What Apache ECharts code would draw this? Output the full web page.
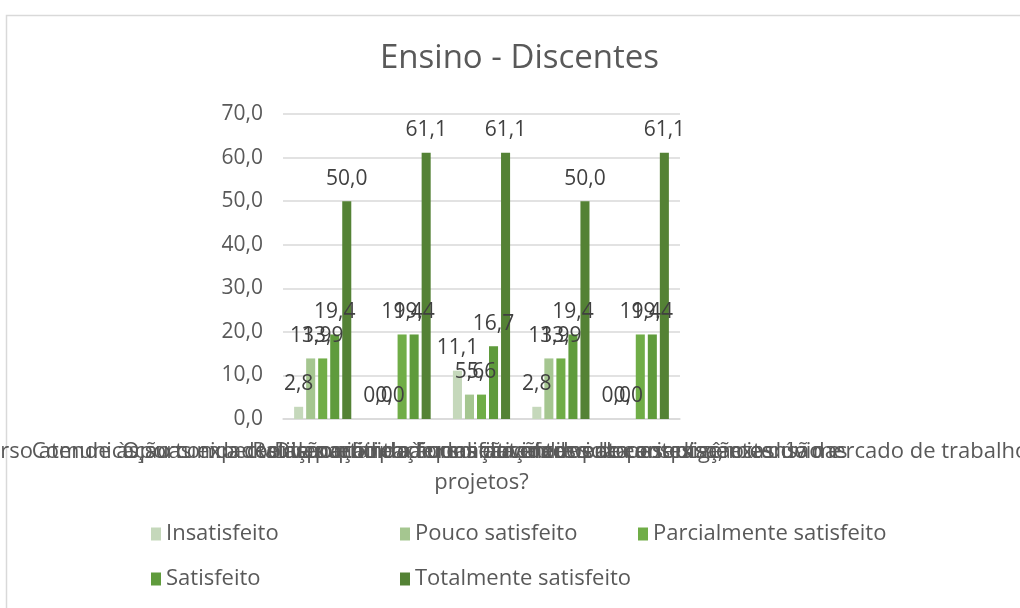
<!DOCTYPE html>
<html>
<head>
<meta charset="utf-8">
<title>Ensino - Discentes</title>
<script src="https://cdn.jsdelivr.net/npm/echarts@6/dist/echarts.min.js"></script>
<style>
  html, body { margin: 0; padding: 0; background: #fff; }
  #chart { width: 1020px; height: 608px; }
</style>
</head>
<body>
<div id="chart"></div>
<script>
// perguntas (os rótulos se sobrepõem como no original)
const categories = [
  'O curso atende às suas expectativas quanto à qualificação dos docentes',
  'Comunicação com a coordenação do curso e atendimento aos discentes',
  'Oportunidades de participação em atividades de pesquisa, extensão e\nprojetos?',
  'Disponibilidade dos docentes para orientação e dúvidas',
  'Relação entre a formação oferecida e as exigências do mercado de trabalho'
]
const seriesNames = ['Insatisfeito', 'Pouco satisfeito', 'Parcialmente satisfeito', 'Satisfeito', 'Totalmente satisfeito']
const insatisfeito = [2.8, 0.0, 11.1, 2.8, 0.0]
const poucoSatisfeito = [13.9, 0.0, 5.6, 13.9, 0.0]
const parcialmenteSatisfeito = [13.9, 19.4, 5.6, 13.9, 19.4]
const satisfeito = [19.4, 19.4, 16.7, 19.4, 19.4]
const totalmenteSatisfeito = [50.0, 61.1, 61.1, 50.0, 61.1]

const seriesData = [insatisfeito, poucoSatisfeito, parcialmenteSatisfeito, satisfeito, totalmenteSatisfeito]
const colors = ['#C5D8BB', '#A5C690', '#70AD47', '#5F9B3C', '#548235']
// posição de cada item da legenda (duas linhas, em colunas)
const legendPos = [[151, 523], [400, 523], [638, 523], [151, 568], [400, 568]]

const font = "'Open Sans', 'Noto Sans', sans-serif"
const fmt = v => Number(v).toFixed(1).replace('.', ',')

const chart = echarts.init(document.getElementById('chart'))
chart.setOption({
  animation: false,
  color: colors,
  title: {
    text: 'Ensino - Discentes',
    left: 375,
    top: 37,
    textStyle: {
      fontFamily: font,
      fontSize: 33,
      fontWeight: 'normal',
      color: '#595959'
    }
  },
  graphic: [
    {
      type: 'rect',
      shape: { x: 6.5, y: 15.5, width: 1100, height: 700 },
      style: { fill: 'none', stroke: '#D9D9D9', lineWidth: 1.5 },
      silent: true
    }
  ],
  legend: seriesNames.map((name, i) => ({
    data: [name],
    left: legendPos[i][0],
    top: legendPos[i][1],
    padding: 0,
    icon: 'rect',
    itemWidth: 10,
    itemHeight: 13,
    selectedMode: false,
    textStyle: {
      fontFamily: font,
      fontSize: 22,
      color: '#595959'
    }
  })),
  grid: {
    left: 283,
    right: 340,
    top: 114,
    bottom: 189,
    containLabel: false,
    outerBoundsMode: 'none'
  },
  xAxis: {
    type: 'category',
    data: categories,
    axisTick: { show: false },
    axisLine: { lineStyle: { color: '#D9D9D9', width: 1.5 } },
    axisLabel: {
      interval: 0,
      hideOverlap: false,
      margin: 17,
      lineHeight: 31,
      fontFamily: font,
      fontSize: 22,
      color: '#595959'
    }
  },
  yAxis: {
    type: 'value',
    min: 0,
    max: 70,
    interval: 10,
    axisLine: { show: false },
    axisTick: { show: false },
    splitLine: { lineStyle: { color: '#D9D9D9', width: 1.5 } },
    axisLabel: {
      margin: 20,
      fontFamily: font,
      fontSize: 21,
      color: '#595959',
      formatter: v => fmt(v)
    }
  },
  series: seriesNames.map((name, i) => ({
    name: name,
    type: 'bar',
    data: seriesData[i],
    barGap: '33%',
    barCategoryGap: '28%',
    itemStyle: { color: colors[i] },
    label: {
      show: true,
      position: 'top',
      distance: 12,
      fontFamily: font,
      fontSize: 21,
      color: '#404040',
      formatter: p => fmt(p.value)
    }
  }))
})
</script>
</body>
</html>
